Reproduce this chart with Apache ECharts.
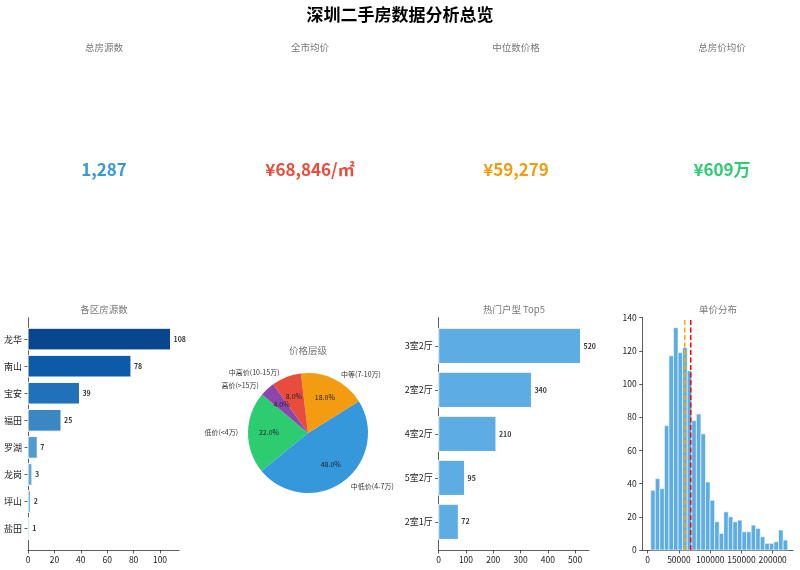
<!DOCTYPE html>
<html>
<head>
<meta charset="utf-8">
<title>深圳二手房数据分析总览</title>
<script src="https://cdn.jsdelivr.net/npm/echarts@6/dist/echarts.min.js"></script>
<style>
html, body { margin: 0; padding: 0; background: #fff; }
#chart { width: 800px; height: 570px; }
</style>
</head>
<body>
<div id="chart"></div>
<script>
// 数据
const kpiNames = ['总房源数', '全市均价', '中位数价格', '总房价均价'];
const kpiValues = ['1,287', '¥68,846/㎡', '¥59,279', '¥609万'];

const districts = ['龙华', '南山', '宝安', '福田', '罗湖', '龙岗', '坪山', '盐田'];
const districtCounts = [108, 78, 39, 25, 7, 3, 2, 1];

const priceLevels = ['低价(<4万)', '中低价(4-7万)', '中等(7-10万)', '中高价(10-15万)', '高价(>15万)'];
const priceShares = [22, 48, 18, 8, 4];

const layouts = ['3室2厅', '2室2厅', '4室2厅', '5室2厅', '2室1厅'];
const layoutCounts = [520, 340, 210, 95, 72];

// 单价直方图 (30 bins)
const histCounts = [36, 43, 37, 75, 117, 134, 119, 122, 108, 78, 82, 70, 41, 30, 17,
  10, 23, 20, 17, 18, 11, 11, 15, 13, 8, 4, 4, 5, 12, 6];
const histMin = 4800, histMax = 224000;
const meanPrice = 68846, medianPrice = 59279;

// 样式
const FONT = '"Noto Sans CJK SC", "Noto Sans", sans-serif';
const kpiColors = ['#3498db', '#e74c3c', '#f39c12', '#2ecc71'];
const kpiX = [104, 310, 516, 722];
const blues = ['#08468e', '#0d5aa8', '#2171b9', '#3a87c4', '#509bd0', '#62aadb', '#78b9e3', '#9ccbe9'];
const pieColors = ['#2ecc71', '#3498db', '#f39c12', '#e74c3c', '#8e44ad'];
const barBlue = '#5dade2';

const chart = echarts.init(document.getElementById('chart'));

// 横向柱子 (custom)
function hbar(params, api) {
	const v = api.value(0), i = api.value(1);
	const a = api.coord([0, i - 0.4]), b = api.coord([v, i + 0.4]);
	const y = Math.min(a[1], b[1]), h = Math.abs(b[1] - a[1]);
	return { type: 'rect', shape: { x: a[0], y: y, width: b[0] - a[0], height: h },
		style: { fill: api.visual('color'), stroke: '#fff', lineWidth: 1 } };
}

function histBar(params, api) {
	const a = api.coord([api.value(0), 0]), b = api.coord([api.value(1), api.value(2)]);
	return { type: 'rect', shape: { x: a[0], y: b[1], width: b[0] - a[0], height: a[1] - b[1] },
		style: { fill: barBlue, stroke: '#fff', lineWidth: 0.6 } };
}

// 数值标签 (隐形散点)
function valueLabels(xi, counts) {
	return {
		type: 'scatter', xAxisIndex: xi, yAxisIndex: xi, symbolSize: 1, silent: true,
		itemStyle: { color: 'rgba(0,0,0,0)' },
		label: { show: true, position: 'right', distance: 2.5, color: '#000', fontSize: 7,
			fontWeight: 'bold', fontFamily: FONT, formatter: p => String(p.value[0]) },
		data: counts.map((v, i) => [v, i])
	};
}

const axisBase = {
	axisLine: { show: true, onZero: false, lineStyle: { color: '#333', width: 0.8 } },
	axisTick: { show: true, length: 3.5, lineStyle: { color: '#333', width: 0.8 } },
	axisLabel: { color: '#222', fontSize: 8.5, fontFamily: FONT, margin: 6 },
	splitLine: { show: false }
};
function axis(extra) {
	const o = Object.assign({}, axisBase, extra);
	o.axisTick = Object.assign({}, axisBase.axisTick, extra.axisTick || {});
	o.axisLabel = Object.assign({}, axisBase.axisLabel, extra.axisLabel || {});
	return o;
}

const binW = (histMax - histMin) / histCounts.length;
const histData = histCounts.map((c, k) => [histMin + k * binW, histMin + (k + 1) * binW, c]);

const texts = [
	{ type: 'text', x: 400, y: 15, style: { text: '深圳二手房数据分析总览', font: 'bold 17px ' + FONT, fill: '#000', align: 'center', verticalAlign: 'middle' } }
];
kpiNames.forEach((n, k) => {
	texts.push({ type: 'text', x: kpiX[k], y: 47, style: { text: n, font: '9.5px ' + FONT, fill: '#777', align: 'center', verticalAlign: 'middle' } });
	texts.push({ type: 'text', x: kpiX[k], y: 170, style: { text: kpiValues[k], font: 'bold 17px ' + FONT, fill: kpiColors[k], align: 'center', verticalAlign: 'middle' } });
});
[['各区房源数', 104, 309], ['价格层级', 308, 350], ['热门户型 Top5', 514, 309], ['单价分布', 718, 309]].forEach(t => {
	texts.push({ type: 'text', x: t[1], y: t[2], style: { text: t[0], font: '9.5px ' + FONT, fill: '#777', align: 'center', verticalAlign: 'middle' } });
});

const option = {
	backgroundColor: '#fff',
	animation: false,
	textStyle: { fontFamily: FONT },
	graphic: texts,
	grid: [
		{ left: 28, right: 621, top: 317.7, bottom: 20 },
		{ left: 438.7, right: 211, top: 317.7, bottom: 20 },
		{ left: 642.7, right: 7, top: 317.7, bottom: 20 }
	],
	xAxis: [
		axis({ type: 'value', gridIndex: 0, min: 0, max: 114.4,
			axisTick: { customValues: [0, 20, 40, 60, 80, 100] },
			axisLabel: { customValues: [0, 20, 40, 60, 80, 100] } }),
		axis({ type: 'value', gridIndex: 1, min: 0, max: 551,
			axisTick: { customValues: [0, 100, 200, 300, 400, 500] },
			axisLabel: { customValues: [0, 100, 200, 300, 400, 500] } }),
		axis({ type: 'value', gridIndex: 2, min: -8000, max: 232500,
			axisTick: { customValues: [0, 50000, 100000, 150000, 200000] },
			axisLabel: { customValues: [0, 50000, 100000, 150000, 200000], formatter: v => String(v) } })
	],
	yAxis: [
		axis({ type: 'value', gridIndex: 0, min: -0.79, max: 7.79, inverse: true,
			axisTick: { customValues: districts.map((d, i) => i) },
			axisLabel: { fontSize: 9, customValues: districts.map((d, i) => i), formatter: v => districts[Math.round(v)] } }),
		axis({ type: 'value', gridIndex: 1, min: -0.64, max: 4.64, inverse: true,
			axisTick: { customValues: layouts.map((d, i) => i) },
			axisLabel: { fontSize: 9, customValues: layouts.map((d, i) => i), formatter: v => layouts[Math.round(v)] } }),
		axis({ type: 'value', gridIndex: 2, min: 0, max: 140,
			axisTick: { customValues: [0, 20, 40, 60, 80, 100, 120, 140] },
			axisLabel: { customValues: [0, 20, 40, 60, 80, 100, 120, 140] } })
	],
	series: [
		{
			type: 'custom', xAxisIndex: 0, yAxisIndex: 0, renderItem: hbar, silent: true,
			data: districtCounts.map((v, i) => ({ value: [v, i], itemStyle: { color: blues[i] } }))
		},
		valueLabels(0, districtCounts),
		{
			type: 'custom', xAxisIndex: 1, yAxisIndex: 1, renderItem: hbar, silent: true,
			itemStyle: { color: barBlue },
			data: layoutCounts.map((v, i) => [v, i])
		},
		valueLabels(1, layoutCounts),
		{
			type: 'custom', xAxisIndex: 2, yAxisIndex: 2, renderItem: histBar, silent: true,
			data: histData
		},
		{
			type: 'line', xAxisIndex: 2, yAxisIndex: 2, symbol: 'none', silent: true,
			lineStyle: { color: '#ffa500', width: 1.5, type: [5, 2.5] },
			data: [[medianPrice, 0], [medianPrice, 140]]
		},
		{
			type: 'line', xAxisIndex: 2, yAxisIndex: 2, symbol: 'none', silent: true,
			lineStyle: { color: '#ff0000', width: 1.5, type: [5, 2.5] },
			data: [[meanPrice, 0], [meanPrice, 140]]
		},
		{
			type: 'pie', center: [308, 433], radius: 60, startAngle: 140, clockwise: false,
			avoidLabelOverlap: false, silent: true,
			label: { position: 'outside', fontSize: 7, color: '#333', fontFamily: FONT },
			labelLine: { show: false, length: 5, length2: 0 },
			data: priceLevels.map((n, i) => ({ name: n, value: priceShares[i], itemStyle: { color: pieColors[i] } }))
		},
		{
			type: 'pie', center: [308, 433], radius: [12, 60], startAngle: 140, clockwise: false,
			avoidLabelOverlap: false, silent: true,
			itemStyle: { color: 'rgba(0,0,0,0)' },
			label: { position: 'inside', fontSize: 7, color: '#222', fontFamily: FONT,
				formatter: p => p.value.toFixed(1) + '%' },
			labelLine: { show: false },
			data: priceLevels.map((n, i) => ({ name: n, value: priceShares[i] }))
		}
	]
};

chart.setOption(option);
</script>
</body>
</html>
